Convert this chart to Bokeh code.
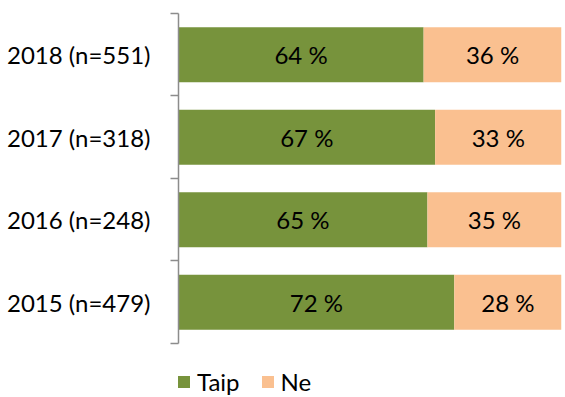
from bokeh.plotting import figure
from bokeh.models import ColumnDataSource, Range1d, LinearAxis, FixedTicker, Legend, LegendItem
from bokeh.core.properties import value
from bokeh.embed import file_html
from bokeh.resources import INLINE

categories = ["2018 (n=551)", "2017 (n=318)", "2016 (n=248)", "2015 (n=479)"]
taip = [64, 67, 65, 72]
ne = [36, 33, 35, 28]
series_names = ["Taip", "Ne"]
colors = ["#77933C", "#FAC090"]

FONT = "Lato"
n = len(categories)
pos = [i + 0.5 for i in range(n)]
src = ColumnDataSource(dict(
    y=pos, taip=taip, ne=ne,
    tx=[a / 2 for a in taip],
    nx=[a + b / 2 for a, b in zip(taip, ne)],
    tl=[f"{a} %" for a in taip],
    nl=[f"{b} %" for b in ne],
))

# extra room below the last category holds the legend inside the frame
p = figure(width=565, height=397, output_backend="svg", toolbar_location=None,
           x_range=Range1d(0, 100), y_range=Range1d(n + 0.655, 0),
           x_axis_location=None, y_axis_location=None,
           min_border_left=178, min_border_right=4, min_border_top=13, min_border_bottom=0)
p.outline_line_color = None
p.xgrid.visible = False
p.ygrid.visible = False

bounds = list(range(n + 1))
tick_axis = LinearAxis(ticker=FixedTicker(ticks=bounds), bounds=(0, n),
                       major_label_overrides={b: "" for b in bounds},
                       major_label_text_font_size="1px", major_label_standoff=0,
                       major_tick_in=0, major_tick_out=8,
                       major_tick_line_color="#8C8C8C", major_tick_line_width=1.5,
                       minor_tick_line_color=None,
                       axis_line_color="#8C8C8C", axis_line_width=1.5)
p.add_layout(tick_axis, "left")

label_axis = LinearAxis(ticker=FixedTicker(ticks=pos),
                        major_label_overrides={pos[i]: categories[i] for i in range(n)},
                        major_label_text_font=FONT, major_label_text_font_size="24px",
                        major_label_text_color="black", major_label_standoff=14,
                        major_tick_line_color=None, minor_tick_line_color=None,
                        axis_line_color=None)
p.add_layout(label_axis, "left")

rs = p.hbar_stack(["taip", "ne"], y="y", height=0.665, fill_color=colors, line_color=None, source=src)

for xcol, tcol in (("tx", "tl"), ("nx", "nl")):
    p.text(x=xcol, y="y", text=tcol, source=src, text_align="center", text_baseline="middle",
           text_font=value(FONT), text_font_size="24px", text_color="black")

legend = Legend(items=[LegendItem(label=series_names[i], renderers=[rs[i]]) for i in range(2)],
                orientation="horizontal", location=(-2, 1),
                glyph_width=15, glyph_height=15, label_standoff=6, spacing=20,
                label_text_font=FONT, label_text_font_size="24px", label_text_color="black",
                padding=0, margin=0, border_line_color=None, background_fill_alpha=0)
p.add_layout(legend, "center")

open("out.html", "w").write(file_html(p, INLINE))
